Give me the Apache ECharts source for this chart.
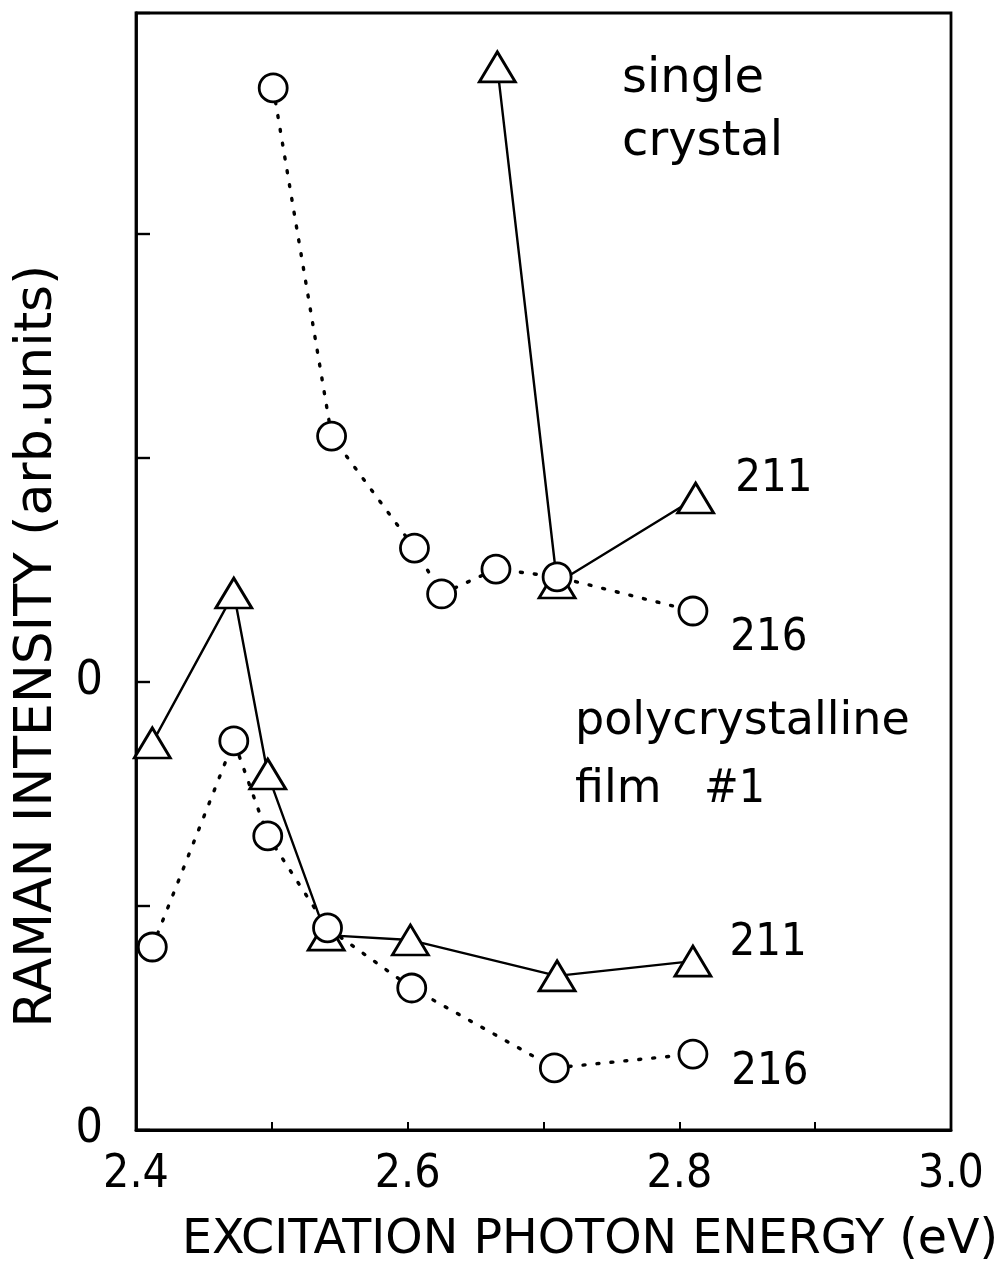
<!DOCTYPE html>
<html><head><meta charset="utf-8">
<script src="https://cdn.jsdelivr.net/npm/echarts@6/dist/echarts.min.js"></script>
<style>html,body{margin:0;padding:0;background:#fff}#c{width:1008px;height:1266px}</style>
</head><body><div id="c"></div>
<script>
// ---- data ----
const xTickLabels = ['2.4', '2.6', '2.8', '3.0'];
const yZeroLabel = '0';
// single crystal (upper panel, own zero)
const single211X = [2.666, 2.710, 2.812];
const single211Y = [2.746, 0.442, 0.821];
const single216X = [2.501, 2.544, 2.605, 2.625, 2.665, 2.710, 2.810];
const single216Y = [2.652, 1.098, 0.598, 0.393, 0.504, 0.469, 0.317];
// polycrystalline film #1 (lower panel, own zero)
const film211X = [2.412, 2.472, 2.497, 2.540, 2.602, 2.710, 2.810];
const film211Y = [1.728, 2.397, 1.589, 0.870, 0.848, 0.688, 0.754];
const film216X = [2.412, 2.472, 2.497, 2.541, 2.603, 2.708, 2.810];
const film216Y = [0.817, 1.737, 1.313, 0.902, 0.634, 0.277, 0.339];
const seriesNames = ['211', '216'];

// ---- chart ----
const FONT = "'DejaVu Sans', sans-serif";
const NUMFONT = "'Liberation Sans Narrow', 'DejaVu Sans Condensed', 'DejaVu Sans', sans-serif";
const chart = echarts.init(document.getElementById('c'), null, {renderer: 'canvas'});

function pts(xs, ys, name, labelOffset, halfW) {
  return xs.map((x, i) => {
    const item = {value: [x, ys[i]]};
    if (i === xs.length - 1) {
      item.label = {
        show: true, formatter: name, position: 'right', distance: 0,
        offset: [labelOffset[0] - halfW, labelOffset[1]],
        fontFamily: NUMFONT, fontSize: 45, color: '#000'
      };
    }
    return item;
  });
}

const triStyle = {
  type: 'line', symbol: 'triangle', symbolSize: [36, 30],
  itemStyle: {color: '#fff', borderColor: '#000', borderWidth: 2.8},
  lineStyle: {color: '#000', width: 2.4, type: 'solid'},
  z: 2
};
const circStyle = {
  type: 'line', symbol: 'circle', symbolSize: 28,
  itemStyle: {color: '#fff', borderColor: '#000', borderWidth: 2.8},
  lineStyle: {color: '#000', width: 3.4, type: [2, 12], cap: 'round'},
  z: 3
};

const unitMax = 4.9866;

const option = {
  animation: false,
  backgroundColor: '#fff',
  grid: {left: 136, right: 57, top: 13, height: 1117, show: true,
         borderColor: '#000', borderWidth: 2.8, backgroundColor: 'transparent'},
  xAxis: {
    type: 'value', min: 2.4, max: 3.0, interval: 0.1,
    axisLine: {show: true, lineStyle: {color: '#000', width: 2.8}},
    axisTick: {show: true, inside: true, length: 8, lineStyle: {color: '#000', width: 2}},
    splitLine: {show: false},
    axisLabel: {
      margin: 22, color: '#000', fontFamily: NUMFONT, fontSize: 46,
      formatter: v => {
        const k = Math.round(v * 10) - 24;
        return (k % 2 === 0) ? xTickLabels[k / 2] : '';
      }
    }
  },
  yAxis: [
    { // lower panel axis
      type: 'value', min: 0, max: unitMax, interval: 1, position: 'left',
      axisLine: {show: true, lineStyle: {color: '#000', width: 2.8}},
      axisTick: {show: true, inside: true, length: 14, lineStyle: {color: '#000', width: 2.4}},
      splitLine: {show: false},
      axisLabel: {margin: 33, color: '#000', fontFamily: NUMFONT, fontSize: 48,
                  formatter: v => (Math.abs(v) < 1e-9 ? yZeroLabel : '')}
    },
    { // upper panel axis (same scale, zero shifted)
      type: 'value', min: -2, max: unitMax - 2, interval: 1, position: 'left',
      axisLine: {show: false}, axisTick: {show: false}, splitLine: {show: false},
      axisLabel: {margin: 33, color: '#000', fontFamily: NUMFONT, fontSize: 48,
                  formatter: v => (Math.abs(v) < 1e-9 ? yZeroLabel : '')}
    }
  ],
  series: [
    Object.assign({}, triStyle, {name: 'film ' + seriesNames[0], yAxisIndex: 0,
      data: pts(film211X, film211Y, seriesNames[0], [35, -18], 18)}),
    Object.assign({}, circStyle, {name: 'film ' + seriesNames[1], yAxisIndex: 0,
      data: pts(film216X, film216Y, seriesNames[1], [37, 18], 14)}),
    Object.assign({}, triStyle, {name: 'single ' + seriesNames[0], yAxisIndex: 1,
      data: pts(single211X, single211Y, seriesNames[0], [38, -19], 18)}),
    Object.assign({}, circStyle, {name: 'single ' + seriesNames[1], yAxisIndex: 1,
      data: pts(single216X, single216Y, seriesNames[1], [36, 27], 14)})
  ],
  graphic: [
    {type: 'text', x: 622, y: 80, style: {text: 'single', font: '48px ' + FONT, fill: '#000', verticalAlign: 'middle', align: 'left'}},
    {type: 'text', x: 622, y: 143, style: {text: 'crystal', font: '48px ' + FONT, fill: '#000', verticalAlign: 'middle', align: 'left'}},
    {type: 'text', x: 575, y: 722, style: {text: 'polycrystalline', font: '46px ' + FONT, fill: '#000', verticalAlign: 'middle', align: 'left'}},
    {type: 'text', x: 575, y: 790, style: {text: 'film', font: '46px ' + FONT, fill: '#000', verticalAlign: 'middle', align: 'left'}},
    {type: 'text', x: 704, y: 790, style: {text: '#1', font: '46px ' + NUMFONT, fill: '#000', verticalAlign: 'middle', align: 'left'}},
    {type: 'text', x: 590, y: 1241, style: {text: 'EXCITATION PHOTON ENERGY (eV)', font: '47.5px ' + FONT, fill: '#000', verticalAlign: 'middle', align: 'center'}},
    {type: 'text', x: 37, y: 646, rotation: Math.PI / 2, style: {text: 'RAMAN INTENSITY (arb.units)', font: '52px ' + FONT, fill: '#000', verticalAlign: 'middle', align: 'center'}}
  ]
};
chart.setOption(option);
</script>
</body></html>
